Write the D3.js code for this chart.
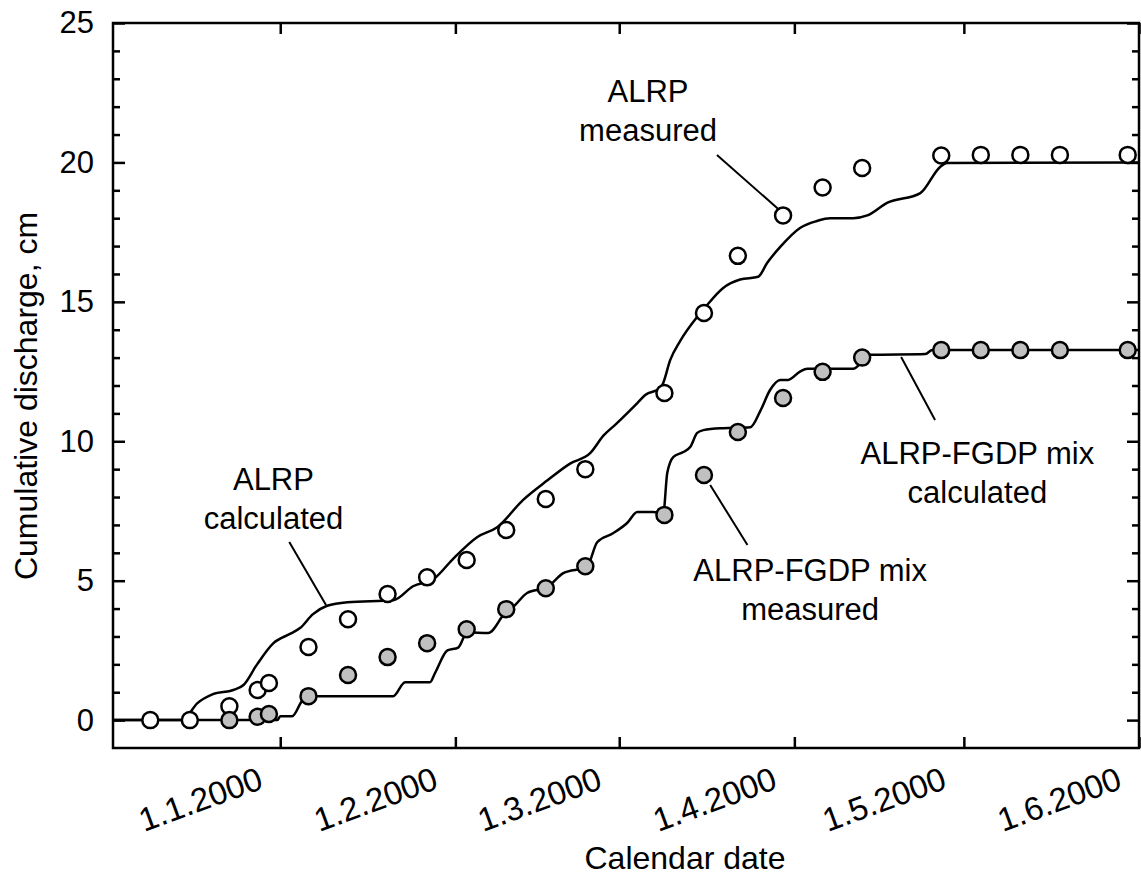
<!DOCTYPE html>
<html>
<head>
<meta charset="utf-8">
<script src="https://cdn.jsdelivr.net/npm/d3@7"></script>
<style>
  body { margin: 0; background: #fff; }
  svg { display: block; }
</style>
</head>
<body>
<svg id="chart"></svg>
<script>
// days are counted from 1.1.2000
const monthTicks = ["2000-01-01", "2000-02-01", "2000-03-01", "2000-04-01", "2000-05-01", "2000-06-01"];
const yMajorTicks = [0, 5, 10, 15, 20, 25];

const alrpMeasuredDays = [-23, -16, -9, -4, -2, 5, 12, 19, 26, 33, 40, 47, 54, 68, 75, 81, 89, 96, 103, 117, 124, 131, 138, 150];
const alrpMeasured = [0, 0, 0.5, 1.08, 1.33, 2.62, 3.62, 4.52, 5.12, 5.74, 6.82, 7.93, 9.0, 11.73, 14.6, 16.65, 18.1, 19.1, 19.8, 20.25, 20.27, 20.27, 20.27, 20.27];

const mixMeasuredDays = [-9, -4, -2, 5, 12, 19, 26, 33, 40, 47, 54, 68, 75, 81, 89, 96, 103, 117, 124, 131, 138, 150];
const mixMeasured = [0, 0.12, 0.22, 0.86, 1.62, 2.26, 2.76, 3.26, 3.98, 4.73, 5.52, 7.36, 8.79, 10.33, 11.55, 12.49, 13.0, 13.27, 13.27, 13.27, 13.27, 13.27];

const alrpCalcDays = [-29.6, -17.3, -14.7, -11.9, -8.3, -6.5, -4.1, -1.2, 1.8, 3.5, 5.8, 8.3, 11.9, 20, 23.5, 27.4, 30.4, 34.9, 38.4, 43, 47.3, 51.3, 54.9, 57.2, 59.6, 63.2, 64.6, 67.3, 67.8, 69, 70.8, 73.8, 75.2, 78.4, 81.4, 84.6, 86.2, 88.5, 92, 95, 97.3, 101.4, 103.9, 107.4, 113.3, 116.8, 118, 151.9];
const alrpCalc = [0, 0, 0.6, 0.93, 1.08, 1.26, 2.0, 2.76, 3.1, 3.3, 3.8, 4.1, 4.23, 4.3, 4.8, 5.1, 5.74, 6.57, 6.92, 7.9, 8.6, 9.2, 9.58, 10.2, 10.65, 11.37, 11.66, 11.9, 12.1, 12.9, 13.6, 14.46, 14.8, 15.5, 15.8, 15.9, 16.4, 16.97, 17.65, 17.9, 18.0, 18.0, 18.1, 18.55, 18.9, 19.84, 19.98, 20.0];

const mixCalcDays = [-29.6, -0.5, 0, 2.1, 3.9, 5, 19.5, 20, 22.1, 26.5, 27.4, 29.6, 31.5, 33.1, 36.8, 39.8, 41.2, 43.7, 47.3, 50.1, 54.3, 56.1, 58.9, 61.4, 63.2, 66, 67.8, 68.5, 69.6, 71.2, 72.6, 73.8, 74.9, 78.4, 83.2, 85, 86.7, 88.5, 89.9, 92, 93.3, 101.4, 103.2, 104.4, 114.2, 115.4, 151.9];
const mixCalc = [0, 0, 0.14, 0.14, 0.7, 0.86, 0.86, 0.86, 1.36, 1.36, 1.69, 2.5, 2.6, 3.15, 3.12, 3.84, 4.05, 4.56, 4.77, 5.27, 5.5, 6.38, 6.7, 7.07, 7.46, 7.46, 7.42, 8.86, 9.44, 9.6, 9.8, 10.3, 10.4, 10.47, 10.5, 11.1, 11.84, 12.2, 12.2, 12.5, 12.6, 12.6, 12.9, 13.1, 13.13, 13.27, 13.27];

// labels: [day, value] of text centre/baseline, leader from/to in [day, value]
const notes = [
  { lines: ["ALRP", "calculated"], at: [-1.2, 8.25], from: [1.6, 6.39], to: [8.1, 4.13] },
  { lines: ["ALRP", "measured"], at: [65.1, 22.17], from: [77.3, 20.27], to: [88.3, 18.3] },
  { lines: ["ALRP-FGDP mix", "calculated"], at: [123.4, 9.2], from: [109.9, 13.02], to: [115.9, 10.76] },
  { lines: ["ALRP-FGDP mix", "measured"], at: [93.8, 5.0], from: [76.1, 8.43], to: [82.7, 6.28] }
];

const width = 1141;
const height = 878;
const margin = { top: 23, right: 2, bottom: 130, left: 113 };
const FONT = "Arial, 'Liberation Sans', sans-serif";

const jan1 = new Date(2000, 0, 1);
const dayToDate = (d) => new Date(jan1.getTime() + d * 864e5);
const parse = d3.timeParse("%Y-%m-%d");

const svg = d3.select("#chart").attr("width", width).attr("height", height);

const x = d3.scaleTime()
  .domain([dayToDate(-29.6), parse("2000-06-01")])
  .range([margin.left, width - margin.right]);

const y = d3.scaleLinear()
  .domain([-1, 25])
  .range([height - margin.bottom, margin.top]);

const minorTicks = d3.range(1, 25).filter((v) => v % 5 !== 0);
const tickDates = monthTicks.map(parse);
const fmt = (d) => `${d.getDate()}.${d.getMonth() + 1}.${d.getFullYear()}`;

const styleAxis = (g) => {
  g.select(".domain").remove();
  g.selectAll("line").attr("stroke", "#000").attr("stroke-width", 2.5);
  g.selectAll("text").attr("fill", "#000").style("font-family", FONT);
};

// bottom axis
svg.append("g")
  .attr("transform", `translate(0,${y(-1)})`)
  .call(d3.axisBottom(x).tickValues(tickDates).tickSizeInner(-11).tickSizeOuter(0).tickFormat(fmt))
  .call(styleAxis)
  .selectAll("text")
  .attr("x", 0).attr("y", 0).attr("dy", null)
  .style("font-size", "33px")
  .attr("text-anchor", "end")
  .attr("transform", "translate(-16,40) rotate(-20)");

// top axis
svg.append("g")
  .attr("transform", `translate(0,${y(25)})`)
  .call(d3.axisTop(x).tickValues(tickDates).tickSizeInner(-11).tickSizeOuter(0).tickFormat(""))
  .call(styleAxis);

// left axis
svg.append("g")
  .attr("transform", `translate(${x.range()[0]},0)`)
  .call(d3.axisLeft(y).tickValues(yMajorTicks).tickSizeInner(-12).tickSizeOuter(0).tickPadding(19))
  .call(styleAxis)
  .selectAll("text").style("font-size", "31px");

svg.append("g")
  .attr("transform", `translate(${x.range()[0]},0)`)
  .call(d3.axisLeft(y).tickValues(minorTicks).tickSizeInner(-7).tickSizeOuter(0).tickFormat(""))
  .call(styleAxis);

// right axis
svg.append("g")
  .attr("transform", `translate(${x.range()[1]},0)`)
  .call(d3.axisRight(y).tickValues(yMajorTicks).tickSizeInner(-12).tickSizeOuter(0).tickFormat(""))
  .call(styleAxis);

svg.append("g")
  .attr("transform", `translate(${x.range()[1]},0)`)
  .call(d3.axisRight(y).tickValues(minorTicks).tickSizeInner(-7).tickSizeOuter(0).tickFormat(""))
  .call(styleAxis);

// frame
svg.append("rect")
  .attr("x", x.range()[0])
  .attr("y", y(25))
  .attr("width", x.range()[1] - x.range()[0])
  .attr("height", y(-1) - y(25))
  .attr("fill", "none")
  .attr("stroke", "#000")
  .attr("stroke-width", 2.5);

// calculated curves
const line = d3.line()
  .x((d) => x(dayToDate(d[0])))
  .y((d) => y(d[1]))
  .curve(d3.curveMonotoneX);

[[alrpCalcDays, alrpCalc], [mixCalcDays, mixCalc]].forEach(([days, vals]) => {
  svg.append("path")
    .datum(days.map((d, i) => [d, vals[i]]))
    .attr("d", line)
    .attr("fill", "none")
    .attr("stroke", "#000")
    .attr("stroke-width", 2.5);
});

// leader lines
svg.selectAll(".leader")
  .data(notes)
  .enter()
  .append("line")
  .attr("class", "leader")
  .attr("x1", (d) => x(dayToDate(d.from[0])))
  .attr("y1", (d) => y(d.from[1]))
  .attr("x2", (d) => x(dayToDate(d.to[0])))
  .attr("y2", (d) => y(d.to[1]))
  .attr("stroke", "#000")
  .attr("stroke-width", 2);

// measured points
const drawPoints = (days, vals, fill) => {
  svg.append("g")
    .selectAll("circle")
    .data(days.map((d, i) => [d, vals[i]]))
    .enter()
    .append("circle")
    .attr("cx", (d) => x(dayToDate(d[0])))
    .attr("cy", (d) => y(d[1]))
    .attr("r", 8)
    .attr("fill", fill)
    .attr("stroke", "#000")
    .attr("stroke-width", 2.5);
};
drawPoints(alrpMeasuredDays, alrpMeasured, "#fff");
drawPoints(mixMeasuredDays, mixMeasured, "#c0c0c0");

// annotation text
notes.forEach((n) => {
  const t = svg.append("text")
    .attr("x", x(dayToDate(n.at[0])))
    .attr("y", y(n.at[1]))
    .attr("text-anchor", "middle")
    .style("font-family", FONT)
    .style("font-size", "31px");
  n.lines.forEach((s, i) => {
    t.append("tspan")
      .attr("x", x(dayToDate(n.at[0])))
      .attr("dy", i === 0 ? 0 : 39)
      .text(s);
  });
});

// axis titles
svg.append("text")
  .attr("x", 685)
  .attr("y", 869)
  .attr("text-anchor", "middle")
  .style("font-family", FONT)
  .style("font-size", "32px")
  .text("Calendar date");

svg.append("text")
  .attr("transform", "translate(37,396) rotate(-90)")
  .attr("text-anchor", "middle")
  .style("font-family", FONT)
  .style("font-size", "32px")
  .text("Cumulative discharge, cm");
</script>
</body>
</html>
